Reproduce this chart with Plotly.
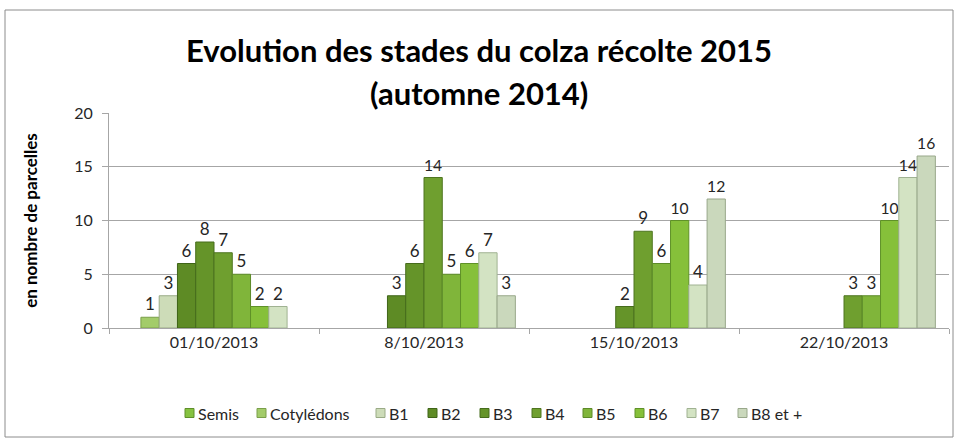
import plotly.graph_objects as go

categories = ["01/10/2013", "8/10/2013", "15/10/2013", "22/10/2013"]
series_names = ["Semis", "Cotylédons", "B1", "B2", "B3", "B4", "B5", "B6", "B7", "B8 et +"]
semis = [None, None, None, None]
cotyledons = [1, None, None, None]
b1 = [3, None, None, None]
b2 = [6, 3, None, None]
b3 = [8, 6, 2, None]
b4 = [7, 14, 9, 3]
b5 = [5, 5, 6, 3]
b6 = [2, 6, 10, 10]
b7 = [2, 7, 4, 14]
b8 = [None, 3, 12, 16]
series_values = [semis, cotyledons, b1, b2, b3, b4, b5, b6, b7, b8]
colors = ["#86c240", "#a3cc6a", "#cddcb8", "#5e8b25", "#659429", "#6f9f2f",
          "#80b53a", "#86c03a", "#d3e3c3", "#cad8bc"]
line_colors = ["#5f8f2a", "#7a9f4a", "#9aab86", "#3f6418", "#466c1c", "#4e7520",
               "#5c8a28", "#5f9128", "#a0b292", "#98a78a"]

font = "Lato, 'Open Sans', sans-serif"

W, H = 959, 441
ML, MR, MT, MB = 109, 10, 113, 113
PW, PH = W - ML - MR, H - MT - MB


def px_x(px):
    return (px - ML) / PW


def px_y(py):
    return (H - MB - py) / PH


fig = go.Figure()
for name, vals, c, lc in zip(series_names, series_values, colors, line_colors):
    fig.add_trace(go.Bar(
        x=categories, y=vals, name=name,
        marker=dict(color=c, line=dict(color=lc, width=1)),
        text=[("" if v is None else str(v)) for v in vals],
        textposition="outside", cliponaxis=False,
        textfont=dict(family=font, size=17, color="#262626"),
        showlegend=False,
    ))

fig.update_layout(
    width=W, height=H,
    barmode="group", bargap=0.13, bargroupgap=0,
    paper_bgcolor="white", plot_bgcolor="white",
    margin=dict(l=ML, r=MR, t=MT, b=MB, autoexpand=False),
    showlegend=False,
)

# title (two lines)
for line, cy in [("Evolution des stades du colza récolte 2015", 50), ("(automne 2014)", 93)]:
    fig.add_annotation(
        text="<b>" + line + "</b>",
        xref="paper", yref="paper", x=px_x(479), y=px_y(cy),
        xanchor="center", yanchor="middle", showarrow=False,
        font=dict(family=font, size=31, color="black"),
    )

# legend (custom, compact like the original)
legend_marker_x = [185, 257, 376, 428, 480, 532, 583, 635, 687, 738]
ly = 413
for name, c, lc, mx in zip(series_names, colors, line_colors, legend_marker_x):
    fig.add_shape(type="rect", xref="paper", yref="paper",
                  x0=px_x(mx), x1=px_x(mx + 9), y0=px_y(ly + 4.5), y1=px_y(ly - 4.5),
                  fillcolor=c, line=dict(color=lc, width=1))
    fig.add_annotation(text=name, xref="paper", yref="paper",
                       x=px_x(mx + 11), y=px_y(ly), xanchor="left", yanchor="middle",
                       showarrow=False,
                       font=dict(family=font, size=16, color="#262626"))

fig.update_xaxes(
    showline=True, linecolor="#a6a6a6", linewidth=1,
    ticks="outside", tickson="boundaries", ticklen=5, tickcolor="#a6a6a6",
    tickfont=dict(family=font, size=16, color="#262626"),
    showgrid=False,
)
fig.update_yaxes(
    range=[0, 20], dtick=5, showgrid=True, gridcolor="#a6a6a6", gridwidth=1,
    showline=True, linecolor="#a6a6a6", linewidth=1,
    ticks="outside", ticklen=6, tickcolor="#a6a6a6", ticklabelstandoff=6,
    tickfont=dict(family=font, size=16, color="#262626"),
    title=dict(text="<b>en nombre de parcelles</b>", standoff=32,
               font=dict(family=font, size=17, color="black")),
    zeroline=False,
)
fig.add_shape(type="rect", xref="paper", yref="paper",
              x0=px_x(5), x1=px_x(953), y0=px_y(437), y1=px_y(10),
              line=dict(color="#8c8c8c", width=1), fillcolor="rgba(0,0,0,0)")

fig.write_html("out.html", config={"displayModeBar": False},
               post_script="document.body.style.margin='0';")
